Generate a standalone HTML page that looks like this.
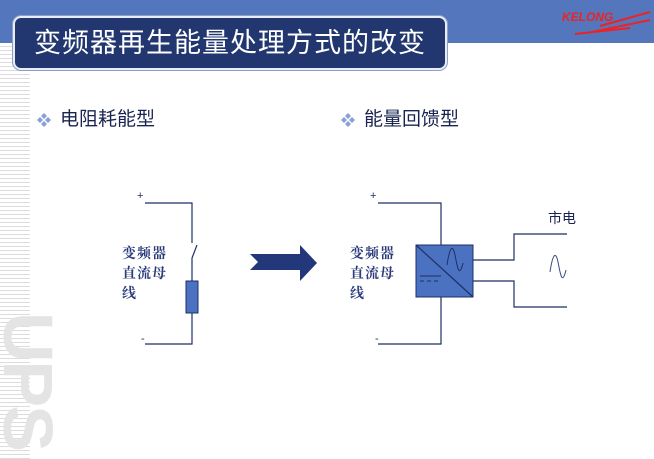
<!DOCTYPE html>
<html><head><meta charset="utf-8"><style>
body{margin:0;width:654px;height:459px;overflow:hidden;background:#fff;position:relative;font-family:"Liberation Sans","Noto Sans CJK SC",sans-serif}
.a{position:absolute}
</style></head><body>
<div class="a" style="left:0;top:0;width:654px;height:43px;background:#5476bd"></div>
<div class="a" style="left:0;top:43px;width:30px;height:416px;background:repeating-linear-gradient(#fff 0 3px,#dcdcdc 3px 4px)"></div>
<div class="a" style="left:-10px;top:312px;font:bold 70px/76px 'Liberation Sans',sans-serif;color:#e4e4e4;writing-mode:vertical-rl;letter-spacing:-2px">UPS</div>
<div class="a" style="left:13px;top:16px;width:430px;height:50px;background:#22376f;border:2px solid #e8ecf5;border-radius:8px;box-shadow:0 0 0 1px #8fa0c8;color:#fff;font-size:27px;line-height:50px;text-align:center;letter-spacing:1px">变频器再生能量处理方式的改变</div>
<div class="a" style="left:562px;top:10px;color:#e22;font:italic bold 12px 'Liberation Sans',sans-serif">KELONG</div>
<svg class="a" style="left:0;top:0" width="654" height="459">
<g stroke="#e22" stroke-width="2" fill="none"><path d="M600 26 L650 12"/><path d="M592 32 L650 20"/><path d="M575 34 L630 28"/></g>
<g fill="#8aa0d8"><path d="M44 113l3 3-3 3-3-3z"/><path d="M40 117l3 3-3 3-3-3z"/><path d="M48 117l3 3-3 3-3-3z"/><path d="M44 121l3 3-3 3-3-3z"/>
<path d="M348 113l3 3-3 3-3-3z"/><path d="M344 117l3 3-3 3-3-3z"/><path d="M352 117l3 3-3 3-3-3z"/><path d="M348 121l3 3-3 3-3-3z"/></g>
<g stroke="#1f2f66" stroke-width="1.2" fill="none">
<path d="M145 203H192V243"/><path d="M192 258L197 245"/><path d="M192 258V281M192 313V344H145"/>
<path d="M378 203H441V245M441 297V344H378"/>
<path d="M473 260H514V234H567M473 281H514V307H567"/>
</g>
<rect x="186" y="281" width="12" height="32" fill="#4a72c0" stroke="#1f2f66"/>
<path d="M250 254H300V245L317 263L300 281V270H250L258 262Z" fill="#23387a"/>
<rect x="416" y="245" width="57" height="52" fill="#4a72c0" stroke="#1f2f66"/>
<path d="M416 245L473 297" stroke="#1f2f66" stroke-width="1.2"/>
<path d="M447 265c3-20 6-20 8-10s4 25 8 8" fill="none" stroke="#1f2f66"/>
<path d="M420 276H441M420 281h4m3 0h4m3 0h4" stroke="#1f2f66"/>
<path d="M550 272c3-20 6-20 8-10s4 25 8 8" fill="none" stroke="#3a4a80"/>
<g fill="#1f2f66" font-size="11"><text x="137" y="199">+</text><text x="141" y="342">-</text><text x="370" y="199">+</text><text x="375" y="342">-</text></g>
</svg>
<div class="a" style="left:60px;top:104px;font-size:19px;color:#1a2450">电阻耗能型</div>
<div class="a" style="left:364px;top:104px;font-size:19px;color:#1a2450">能量回馈型</div>
<div class="a" style="left:548px;top:208px;font-size:14px;color:#1a2450">市电</div>
<div class="a" style="left:122px;top:245px;font:bold 14px/20px 'Liberation Serif','Noto Serif CJK SC',serif;color:#2a3a7a;letter-spacing:1px">变频器<br>直流母<br>线</div>
<div class="a" style="left:350px;top:245px;font:bold 14px/20px 'Liberation Serif','Noto Serif CJK SC',serif;color:#2a3a7a;letter-spacing:1px">变频器<br>直流母<br>线</div>
</body></html>
